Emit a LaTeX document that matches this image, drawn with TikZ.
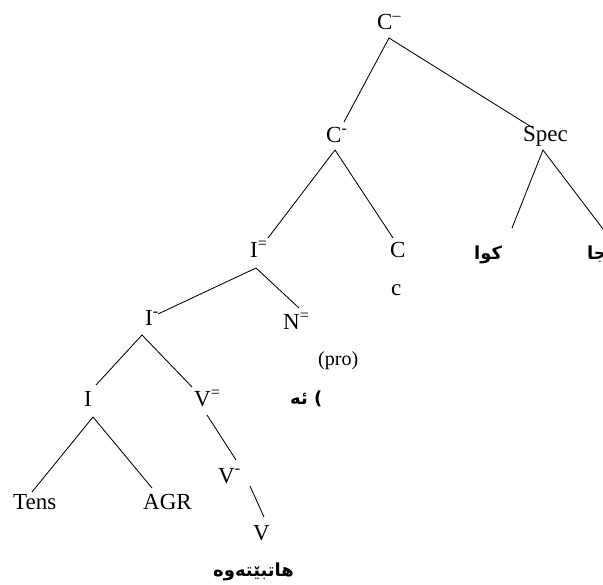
\documentclass[tikz,border=0pt]{standalone}
\usepackage{fontspec}
\setmainfont{Liberation Serif}
\newfontfamily\arabicfont[Script=Arabic]{DejaVu Sans}
\TeXXeTstate=1
\begin{document}
\begin{tikzpicture}[x=1pt,y=-1pt,
  lbl/.style={inner sep=0pt, anchor=base west, font=\fontsize{23}{27}\selectfont},
  sml/.style={inner sep=0pt, anchor=base west, font=\fontsize{20}{24}\selectfont},
  arb/.style={inner sep=0pt, anchor=base west, font=\arabicfont\bfseries\fontsize{18}{22}\selectfont},
  branch/.style={draw, line width=0.85pt}]
\useasboundingbox (0,0) rectangle (603,585);
% labels
\node[lbl] (Ctop) at (377,30) {C\textsuperscript{–}};
\node[lbl] (Cbar) at (326,143) {C\textsuperscript{-}};
\node[lbl] (Spec) at (523,142) {Spec};
\node[lbl] (Ibb) at (250,258) {I\textsuperscript{=}};
\node[lbl] (Chead) at (390,258) {C};
\node[lbl] (cc) at (391,296) {c};
\node[lbl] (Ib) at (145,326) {I\textsuperscript{-}};
\node[lbl] (Nbb) at (283,330) {N\textsuperscript{=}};
\node[sml] (pro) at (318,366) {(pro)};
\node[arb] (ew) at (290,405) {\beginR ئە\endR\ )};
\node[lbl] (Ih) at (84,407) {I};
\node[lbl] (Vbb) at (194,407) {V\textsuperscript{=}};
\node[lbl] (Vb) at (218,483) {V\textsuperscript{-}};
\node[lbl] (Tens) at (13,510) {Tens};
\node[lbl] (AGR) at (143,510) {AGR};
\node[lbl] (Vh) at (253,540) {V};
\node[arb] (verb) at (213,576) {\beginR هاتبێتەوە\endR};
\node[arb] (kwa) at (474,260) {\beginR كوا\endR};
\node[arb] (ja) at (587,260) {\beginR جا\endR};
% attachment points
\coordinate (Ctop-d) at (389,38);
\coordinate (Cbar-u) at (344,122);
\coordinate (Spec-u) at (533,128);
\coordinate (Spec-d) at (543,150);
\coordinate (kwa-u) at (512,228);
\coordinate (ja-u) at (603,229);
\coordinate (Cbar-d) at (335,150);
\coordinate (Ibb-u) at (268,238);
\coordinate (Chead-u) at (393,238);
\coordinate (Ibb-d) at (256,268);
\coordinate (Ib-u) at (158,314);
\coordinate (Nbb-u) at (299,308);
\coordinate (Ib-d) at (142,335);
\coordinate (Ih-u) at (96,385);
\coordinate (Vbb-u) at (192,387);
\coordinate (Ih-d) at (93,417);
\coordinate (Tens-u) at (32,492);
\coordinate (AGR-u) at (152,488);
\coordinate (Vbb-d) at (207,415);
\coordinate (Vb-u) at (236,460);
\coordinate (Vb-d) at (250,486);
\coordinate (Vh-u) at (264,517);
% branches
\draw[branch] (Cbar-u) -- (Ctop-d) -- (Spec-u);
\draw[branch] (kwa-u) -- (Spec-d) -- (ja-u);
\draw[branch] (Ibb-u) -- (Cbar-d) -- (Chead-u);
\draw[branch] (Ib-u) -- (Ibb-d) -- (Nbb-u);
\draw[branch] (Ih-u) -- (Ib-d) -- (Vbb-u);
\draw[branch] (Tens-u) -- (Ih-d) -- (AGR-u);
\draw[branch] (Vbb-d) -- (Vb-u);
\draw[branch] (Vb-d) -- (Vh-u);
\end{tikzpicture}
\end{document}
